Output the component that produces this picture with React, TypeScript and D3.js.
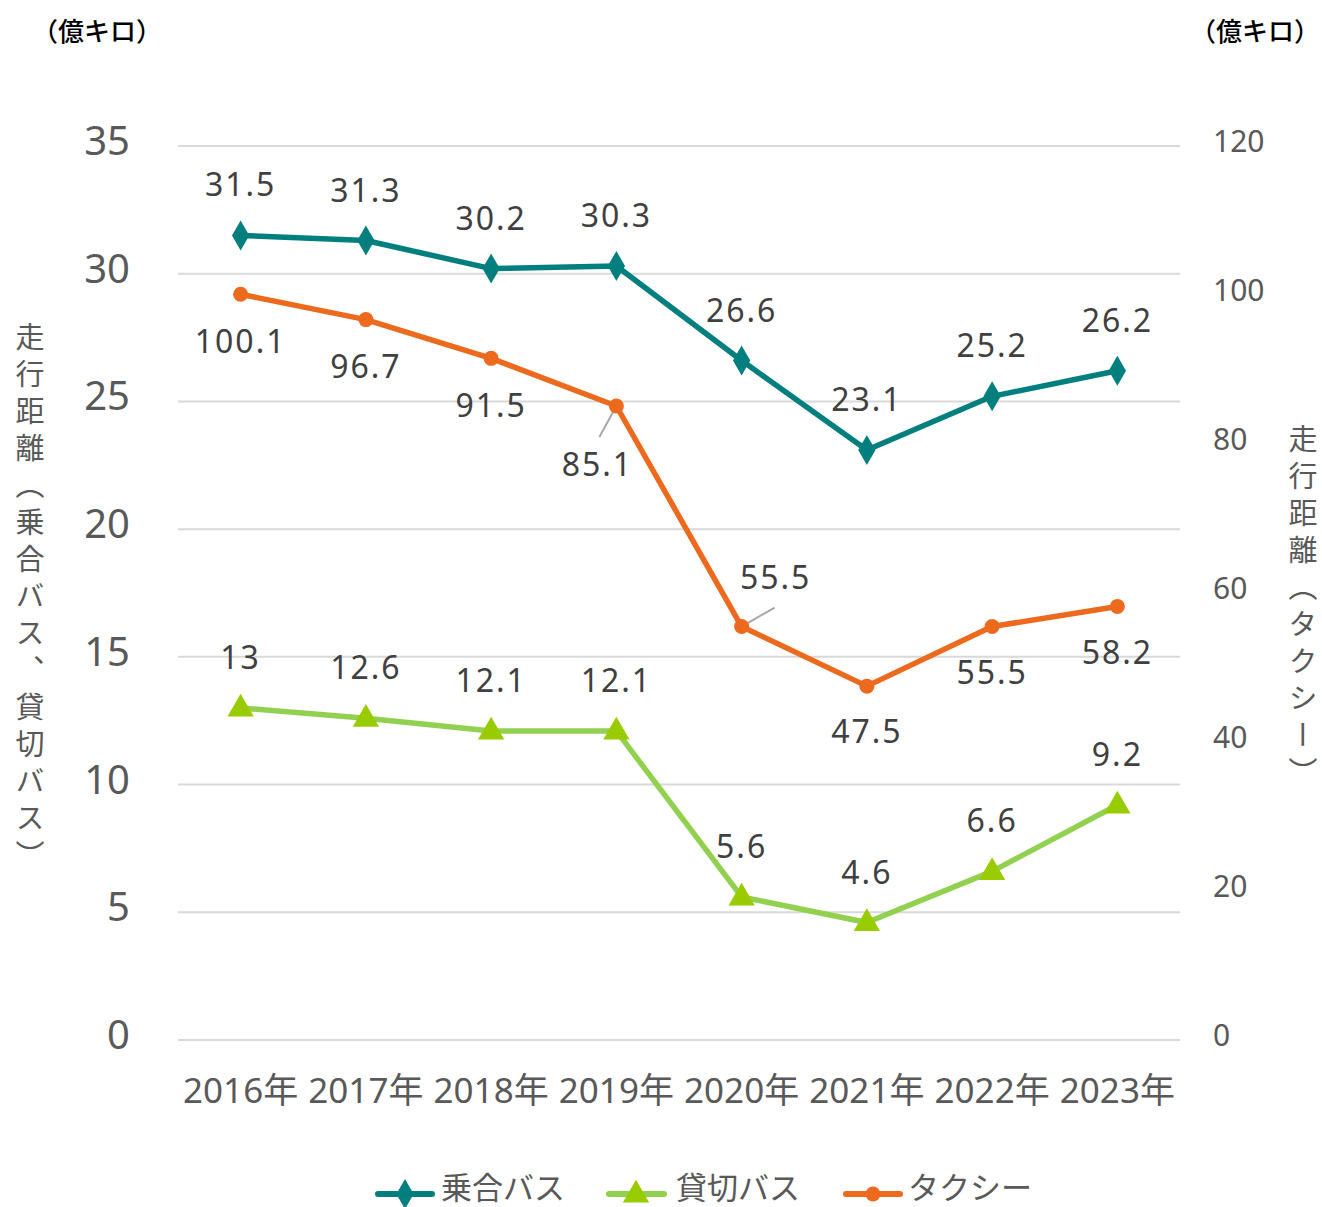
import React from "react";
import * as d3 from "d3";

const years = ["2016年", "2017年", "2018年", "2019年", "2020年", "2021年", "2022年", "2023年"];
const busValues = [31.5, 31.3, 30.2, 30.3, 26.6, 23.1, 25.2, 26.2];
const charterValues = [13, 12.6, 12.1, 12.1, 5.6, 4.6, 6.6, 9.2];
const taxiValues = [100.1, 96.7, 91.5, 85.1, 55.5, 47.5, 55.5, 58.2];
const leftTicks = [0, 5, 10, 15, 20, 25, 30, 35];
const rightTicks = [0, 20, 40, 60, 80, 100, 120];

const W = 1322;
const H = 1207;
const M = { left: 178, right: 1180, top: 146, bottom: 1040 };

const TEAL = "#007F7E";
const GREEN = "#92D050";
const GREEN_MARK = "#99CC00";
const ORANGE = "#EC6A1E";
const GRAY = "#595959";
const FONT = "'Noto Sans', 'Noto Sans CJK JP', sans-serif";
const JFONT = "'Noto Sans CJK JP', 'Noto Sans', sans-serif";

// label offsets (dx, dy) relative to point; special ones with leader lines
const busLabelDy = [-50, -50, -50, -50, -50, -50, -50, -50];
const charterLabelDy = [-50, -50, -50, -50, -50, -50, -50, -50];
const taxiLabel: { dx: number; dy: number; leader?: [number, number, number, number] }[] = [
  { dx: 0, dy: 48 },
  { dx: 0, dy: 47 },
  { dx: 0, dy: 48 },
  { dx: -19, dy: 59, leader: [0, 0, -17, 31] },
  { dx: 34, dy: -49, leader: [0, 0, 33, -19] },
  { dx: 0, dy: 46 },
  { dx: 0, dy: 46 },
  { dx: 0, dy: 47 },
];

export default function App() {
  const x = d3.scaleBand<string>().domain(years).range([M.left, M.right]);
  const cx = (i: number) => (x(years[i]) as number) + x.bandwidth() / 2;
  const yL = d3.scaleLinear().domain([0, 35]).range([M.bottom, M.top]);
  const yR = d3.scaleLinear().domain([0, 120]).range([M.bottom, M.top]);

  const lineL = d3.line<number>().x((_, i) => cx(i)).y((d) => yL(d));
  const lineR = d3.line<number>().x((_, i) => cx(i)).y((d) => yR(d));

  const diamond = d3.symbol().type(d3.symbolDiamond).size(260)() as string;
  const triangle = d3.symbol().type(d3.symbolTriangle).size(300)() as string;

  const labelStyle = { fontFamily: FONT, fontSize: 32, fill: "#404040", letterSpacing: 2 } as React.CSSProperties;

  return (
    <svg width={W} height={H} style={{ position: "absolute", left: 0, top: 0, background: "#fff" }}>
      {/* gridlines */}
      {leftTicks.map((t) => (
        <line key={t} x1={M.left} x2={M.right} y1={yL(t)} y2={yL(t)} stroke="#D9D9D9" strokeWidth={2} />
      ))}
      {/* left ticks */}
      {leftTicks.map((t) => (
        <text key={"l" + t} x={130} y={yL(t) + 9} textAnchor="end" style={{ fontFamily: FONT, fontSize: 40, fill: GRAY }}>
          {t}
        </text>
      ))}
      {/* right ticks */}
      {rightTicks.map((t) => (
        <text key={"r" + t} x={1213} y={yR(t) + 6} textAnchor="start" style={{ fontFamily: FONT, fontSize: 30, fill: GRAY }}>
          {t}
        </text>
      ))}
      {/* x labels */}
      {years.map((yv, i) => (
        <text key={yv} x={cx(i)} y={1103} textAnchor="middle" style={{ fontFamily: FONT, fontSize: 35, fill: GRAY }}>
          {yv}
        </text>
      ))}
      {/* units */}
      <text x={97} y={41} textAnchor="middle" style={{ fontFamily: JFONT, fontSize: 26, fill: "#000", fontWeight: 500 }}>
        （億キロ）
      </text>
      <text x={1255} y={41} textAnchor="middle" style={{ fontFamily: JFONT, fontSize: 26, fill: "#000", fontWeight: 500 }}>
        （億キロ）
      </text>
      {/* axis titles */}
      <text x={30} y={322} style={{ fontFamily: JFONT, fontSize: 29, fill: GRAY, writingMode: "vertical-rl", letterSpacing: 8 } as React.CSSProperties}>
        走行距離（乗合バス、貸切バス）
      </text>
      <text x={1303} y={424} style={{ fontFamily: JFONT, fontSize: 29, fill: GRAY, writingMode: "vertical-rl", letterSpacing: 8 } as React.CSSProperties}>
        走行距離（タクシー）
      </text>

      {/* lines */}
      <path d={lineR(taxiValues) as string} fill="none" stroke={ORANGE} strokeWidth={5.5} strokeLinejoin="round" />
      <path d={lineL(charterValues) as string} fill="none" stroke={GREEN} strokeWidth={5.5} strokeLinejoin="round" />
      <path d={lineL(busValues) as string} fill="none" stroke={TEAL} strokeWidth={5.5} strokeLinejoin="round" />

      {/* leader lines */}
      {taxiValues.map((v, i) =>
        taxiLabel[i].leader ? (
          <line
            key={"ld" + i}
            x1={cx(i) + taxiLabel[i].leader![0]}
            y1={yR(v) + taxiLabel[i].leader![1]}
            x2={cx(i) + taxiLabel[i].leader![2]}
            y2={yR(v) + taxiLabel[i].leader![3]}
            stroke="#A6A6A6"
            strokeWidth={2}
          />
        ) : null
      )}

      {/* markers */}
      {taxiValues.map((v, i) => (
        <circle key={"tm" + i} cx={cx(i)} cy={yR(v)} r={7.5} fill={ORANGE} />
      ))}
      {charterValues.map((v, i) => (
        <path key={"cm" + i} d={triangle} transform={`translate(${cx(i)},${yL(v) + 1})`} fill={GREEN_MARK} />
      ))}
      {busValues.map((v, i) => (
        <path key={"bm" + i} d={diamond} transform={`translate(${cx(i)},${yL(v)})`} fill={TEAL} />
      ))}

      {/* data labels */}
      {busValues.map((v, i) => (
        <text key={"bl" + i} x={cx(i)} y={yL(v) + busLabelDy[i] + 11} textAnchor="middle" style={labelStyle}>
          {v}
        </text>
      ))}
      {charterValues.map((v, i) => (
        <text key={"cl" + i} x={cx(i)} y={yL(v) + charterLabelDy[i] + 11} textAnchor="middle" style={labelStyle}>
          {v}
        </text>
      ))}
      {taxiValues.map((v, i) => (
        <text key={"tl" + i} x={cx(i) + taxiLabel[i].dx} y={yR(v) + taxiLabel[i].dy + 11} textAnchor="middle" style={labelStyle}>
          {v}
        </text>
      ))}

      {/* legend */}
      <g>
        <line x1={378} x2={432} y1={1194} y2={1194} stroke={TEAL} strokeWidth={6} strokeLinecap="round" />
        <path d={diamond} transform="translate(405,1194)" fill={TEAL} />
        <text x={441} y={1199} style={{ fontFamily: JFONT, fontSize: 31, fill: GRAY }}>乗合バス</text>
        <line x1={609} x2={664} y1={1194} y2={1194} stroke={GREEN} strokeWidth={6} strokeLinecap="round" />
        <path d={triangle} transform="translate(636,1195)" fill={GREEN_MARK} />
        <text x={676} y={1199} style={{ fontFamily: JFONT, fontSize: 31, fill: GRAY }}>貸切バス</text>
        <line x1={846} x2={900} y1={1194} y2={1194} stroke={ORANGE} strokeWidth={6} strokeLinecap="round" />
        <circle cx={873} cy={1194} r={7.5} fill={ORANGE} />
        <text x={908} y={1199} style={{ fontFamily: JFONT, fontSize: 31, fill: GRAY }}>タクシー</text>
      </g>
    </svg>
  );
}
